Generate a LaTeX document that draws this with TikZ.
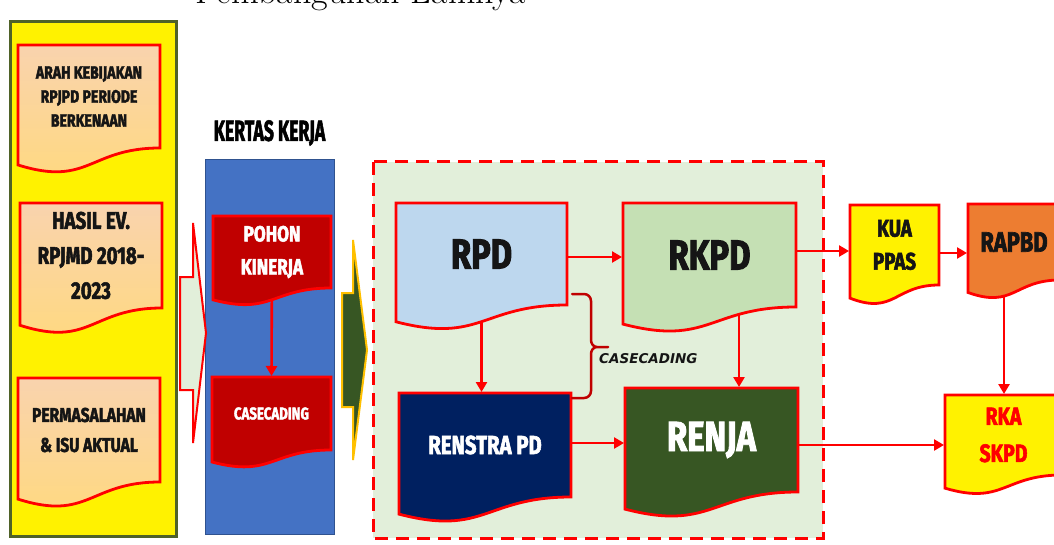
\documentclass[tikz,border=0pt]{standalone}
\usepackage{fontspec}
\usepackage{graphicx}
\usetikzlibrary{calc,arrows.meta}
\newfontfamily\disp{Fira Sans}[FakeStretch=0.78, BoldFeatures={FakeBold=2.2}]
\newfontfamily\hand{DejaVu Sans}
\definecolor{docred}{HTML}{FF0000}
\definecolor{darkred}{HTML}{C00000}
\definecolor{olive}{HTML}{4F6228}
\definecolor{panelblue}{HTML}{4472C4}
\definecolor{panelblueline}{HTML}{2F528F}
\definecolor{palegreen}{HTML}{E2EFDA}
\definecolor{rpdblue}{HTML}{BDD7EE}
\definecolor{rkpdgreen}{HTML}{C5E0B4}
\definecolor{navy}{HTML}{002060}
\definecolor{forest}{HTML}{375623}
\definecolor{gold}{HTML}{FFC000}
\definecolor{orangeb}{HTML}{ED7D31}
\definecolor{peachtop}{HTML}{F9D3AE}
\definecolor{peachbot}{HTML}{FFD97E}
\definecolor{txtdark}{HTML}{151515}
\pgfdeclarelayer{back}
\pgfdeclarelayer{conn}
\pgfdeclarelayer{shapes}
\pgfsetlayers{back,conn,shapes,main}
\tikzset{
  docn/.style={inner sep=0pt, outer sep=0pt, align=center},
  docline/.style={draw=docred, line width=2.8pt, line join=miter},
  leftdoc/.style={top color=peachtop, bottom color=peachbot},
  arr/.style={draw=docred, line width=2.6pt, -{Triangle[length=10pt,width=11pt]}, shorten >=1pt},
  dispfont/.style 2 args={font=\disp\bfseries\fontsize{#1}{#2}\selectfont},
}
\newcommand{\docshape}[2]{%
  \begin{pgfonlayer}{shapes}
  \path[docline,#2] (#1.north west) -- (#1.north east) -- (#1.south east)
    .. controls (#1.south) and ($(#1.north)!1.381!(#1.south)$) ..
    ($(#1.north west)!1.1646!(#1.south west)$) -- cycle;
  \end{pgfonlayer}}
\begin{document}
\begin{tikzpicture}[x=1pt,y=-1pt]
\useasboundingbox (0,0) rectangle (1054,545);

% title cut at top
\node[anchor=base west, inner sep=0pt, font=\fontsize{36}{38}\selectfont] (title) at (195,4) {Pembangunan Lainnya};

% panels and block arrows
\begin{pgfonlayer}{back}
\path[fill=yellow, draw=olive, line width=3pt] (10,22) rectangle (176,536);
\path[fill=panelblue, draw=panelblueline, line width=1pt] (205,160) rectangle (334,534);
\path[fill=palegreen, draw=docred, line width=3pt, dash pattern=on 13pt off 8pt] (373,162) rectangle (823,538);
\path[fill=palegreen, draw=docred, line width=2pt, line join=miter]
  (180,277) -- (193,277) -- (193,223) -- (206,333) -- (193,443) -- (193,390) -- (180,390) -- cycle;
\path[fill=forest, draw=gold, line width=2pt, line join=miter]
  (342,293) -- (353,293) -- (353,240) -- (367,350) -- (353,460) -- (353,407) -- (342,407) -- cycle;
\end{pgfonlayer}

% left column documents
\node[docn, minimum width=142pt, minimum height=103pt, dispfont={18}{24}, text=txtdark] (arah) at (89,96.5) {ARAH KEBIJAKAN\\RPJPD PERIODE\\BERKENAAN};
\docshape{arah}{leftdoc}
\node[docn, minimum width=142pt, minimum height=105pt, dispfont={24}{35}, text=txtdark] (hasil) at (91,255.5) {HASIL EV.\\RPJMD 2018-\\2023};
\docshape{hasil}{leftdoc}
\node[docn, minimum width=142pt, minimum height=104pt, dispfont={20}{30}, text=txtdark] (masalah) at (89,430) {PERMASALAHAN\\\& ISU AKTUAL};
\docshape{masalah}{leftdoc}

% kertas kerja
\node[inner sep=0pt, font=\disp\bfseries\fontsize{29}{30}\selectfont, text=black] (kertas) at (269.5,133) {\scalebox{0.78}[1]{KERTAS KERJA}};
\node[docn, minimum width=118pt, minimum height=72pt, dispfont={22}{33}, text=white] (pohon) at (272,252) {POHON\\KINERJA};
\docshape{pohon}{fill=darkred}
\node[docn, minimum width=119pt, minimum height=73pt, dispfont={17}{20}, text=white] (casc) at (271.5,413.5) {CASECADING};
\docshape{casc}{fill=darkred}

% central documents
\node[docn, minimum width=171pt, minimum height=102pt, dispfont={42}{46}, text=txtdark] (rpd) at (481.5,254) {RPD};
\docshape{rpd}{fill=rpdblue}
\node[docn, minimum width=173pt, minimum height=104pt, dispfont={42}{46}, text=txtdark] (rkpd) at (709.5,255) {RKPD};
\docshape{rkpd}{fill=rkpdgreen}
\node[docn, minimum width=172pt, minimum height=104pt, dispfont={26}{30}, text=white] (renstra) at (485,445) {RENSTRA PD};
\docshape{renstra}{fill=navy}
\node[docn, minimum width=173pt, minimum height=104pt, dispfont={42}{46}, text=white] (renja) at (711.5,440) {RENJA};
\docshape{renja}{fill=forest}

% right documents
\node[docn, minimum width=89pt, minimum height=80pt, dispfont={24}{33}, text=txtdark] (kua) at (894.5,245) {KUA\\PPAS};
\docshape{kua}{fill=yellow}
\node[docn, minimum width=92pt, minimum height=76pt, dispfont={28}{32}, text=txtdark] (rapbd) at (1014,242) {RAPBD};
\docshape{rapbd}{fill=orangeb}
\node[docn, minimum width=117pt, minimum height=80pt, dispfont={25}{37}, text=docred] (rka) at (1003.5,435) {RKA\\SKPD};
\docshape{rka}{fill=yellow}

% brace and its label
\draw[darkred, line width=2.5pt, line cap=round, line join=round]
  (572,294) -- (584,294) to[out=0,in=90] (591,301) -- (591,340) to[out=-90,in=180] (597,347) -- (608,347)
  (597,347) to[out=180,in=90] (591,354) -- (591,391) to[out=-90,in=0] (584,398) -- (572,398);
\node[anchor=west, inner sep=0pt, font=\hand\bfseries\itshape\fontsize{13.5}{15}\selectfont, text=txtdark] (casclabel) at (599,359) {CASECADING};

% connectors
\begin{pgfonlayer}{conn}
\draw[arr] (pohon.center) -- (casc.north);
\draw[arr] ([yshift=-3pt]rpd.east) -- ([yshift=-3pt]rpd.east -| rkpd.west);
\draw[arr] (rpd.center) -- (rpd.center |- renstra.north);
\draw[arr] ([xshift=29.5pt]rkpd.center) -- ([xshift=27.5pt]renja.north);
\draw[arr] ([yshift=2pt]renstra.east) -- ([yshift=2pt]renstra.east -| renja.west);
\draw[arr] ([yshift=4pt]rkpd.east) -- ([yshift=4pt]rkpd.east -| kua.west);
\draw[arr] ([yshift=-8pt]kua.east) -- ([yshift=-8pt]kua.east -| rapbd.west);
\draw[arr] ([xshift=-10pt]rapbd.center) -- ([xshift=-10pt]rapbd.center |- rka.north);
\draw[arr] ([yshift=-5pt]renja.east) -- ([yshift=-5pt]renja.east -| rka.west);
\end{pgfonlayer}
\end{tikzpicture}
\end{document}
